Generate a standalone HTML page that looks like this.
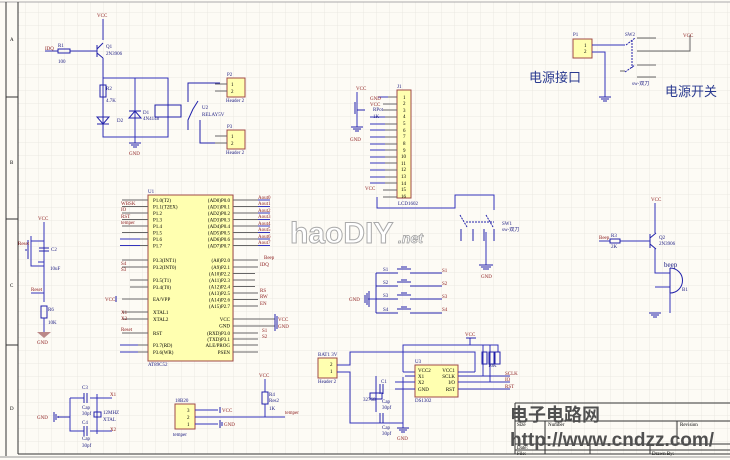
<!DOCTYPE html>
<html><head><meta charset="utf-8"><style>
html,body{margin:0;padding:0;background:#fdfbf5;}
svg{display:block;font-family:"Liberation Serif",serif;}
.w{stroke:#3333bb;stroke-width:1;fill:none}
.p{stroke:#666;stroke-width:1;fill:none}
.c{stroke:#2222aa;stroke-width:1;fill:none}
.n{fill:#8b1a1a;font-size:5px}
.t{fill:#1a1a80;font-size:5px}
.k{fill:#000;font-size:5px}
.bx{fill:#ffffb0;stroke:#a04848;stroke-width:1}
.f{stroke:#333;stroke-width:1;fill:none}
</style></head><body>
<svg width="730" height="460" viewBox="0 0 730 460" xmlns="http://www.w3.org/2000/svg">
<defs><pattern id="g" width="13" height="13" patternUnits="userSpaceOnUse"><path d="M13 0V13H0" fill="none" stroke="#e6e3dc" stroke-width="0.7"/></pattern></defs>
<rect width="730" height="460" fill="#fdfbf5"/>
<rect x="18" y="2" width="712" height="452" fill="url(#g)"/>
<!-- frame -->
<line x1="0" y1="2" x2="730" y2="2" stroke="#aaa"/>
<line x1="6" y1="2" x2="6" y2="456" class="f"/>
<line x1="18" y1="2" x2="18" y2="454" class="f"/>
<line x1="6" y1="97" x2="18" y2="97" class="f"/>
<line x1="6" y1="219" x2="18" y2="219" class="f"/>
<line x1="6" y1="345" x2="18" y2="345" class="f"/>
<line x1="18" y1="454" x2="730" y2="454" class="f"/>
<line x1="0" y1="457" x2="730" y2="457" stroke="#999"/>
<g class="k" font-size="6"><text x="10" y="41">A</text><text x="10" y="164">B</text><text x="10" y="287">C</text><text x="10" y="410">D</text></g>

<!-- Relay section -->
<text x="97" y="17" class="n">VCC</text>
<path class="w" d="M103 19V40"/>
<path class="c" d="M97 45V57M97 49L103 43M97 53L103 58"/>
<path class="w" d="M103 58V78H168V137H103V78M135 78V137"/>
<text x="106" y="48" class="t">Q1</text><text x="106" y="55" class="t">2N3906</text>
<text x="45" y="50" class="n">IDQ</text><path class="w" d="M45 51H58M70 51H97"/>
<rect x="58" y="49" width="12" height="4" class="c" fill="#fff"/>
<text x="58" y="47" class="t">R1</text><text x="58" y="63" class="t">100</text>
<rect x="100" y="85" width="6" height="12" class="c" fill="#fff"/>
<text x="106" y="90" class="t">R2</text><text x="106" y="102" class="t">4.7K</text>
<path class="c" d="M97 117H109L103 124ZM97 124H109" fill="#2222aa"/>
<text x="117" y="122" class="t">D2</text>
<path class="c" d="M129 118H141L135 111Z M129 111H141" fill="#2222aa"/>
<text x="143" y="114" class="t">D1</text><text x="143" y="120" class="t">4N4148</text>
<path class="w" d="M135 137V143"/><path class="c" d="M129 143H141M131 145H139M133 147H137"/>
<text x="129" y="155" class="n">GND</text>
<rect x="155" y="105" width="26" height="12" class="c" fill="#fff"/>
<path class="c" d="M188 102V83H220M193 109L188 120V130M200 120V143H220M198 101L193 109"/>
<text x="202" y="109" class="t">U2</text><text x="202" y="116" class="t">RELAY5V</text>
<rect x="227" y="78" width="18" height="19" class="bx"/>
<text x="227" y="76" class="t">P2</text><text x="231" y="86" class="k">1</text><text x="231" y="93" class="k">2</text><text x="226" y="102" class="t">Header 2</text>
<path class="p" d="M215 84H227M215 91H227"/>
<rect x="227" y="130" width="18" height="19" class="bx"/>
<text x="227" y="128" class="t">P3</text><text x="231" y="138" class="k">1</text><text x="231" y="145" class="k">2</text><text x="226" y="154" class="t">Header 2</text>
<path class="p" d="M215 136H227M215 143H227"/>

<!-- U1 -->
<rect x="148" y="195" width="85" height="166" class="bx"/>
<text x="148" y="193" class="t">U1</text><text x="148" y="366" class="t">AT89C52</text>
<g class="k" font-size="5">
<text x="153" y="202">P1.0(T2)</text><text x="153" y="208.5">P1.1(T2EX)</text><text x="153" y="215">P1.2</text><text x="153" y="221.5">P1.3</text><text x="153" y="228">P1.4</text><text x="153" y="234.5">P1.5</text><text x="153" y="241">P1.6</text><text x="153" y="247.5">P1.7</text>
<text x="153" y="262">P3.3(INT1)</text><text x="153" y="269">P3.2(INT0)</text><text x="153" y="282">P3.5(T1)</text><text x="153" y="289">P3.4(T0)</text><text x="153" y="301">EA/VPP</text><text x="153" y="314">XTAL1</text><text x="153" y="321">XTAL2</text><text x="153" y="335">RST</text><text x="153" y="347">P3.7(RD)</text><text x="153" y="354">P3.6(WR)</text>
<g text-anchor="end">
<text x="230" y="202">(AD0)P0.0</text><text x="230" y="208.5">(AD1)P0.1</text><text x="230" y="215">(AD2)P0.2</text><text x="230" y="221.5">(AD3)P0.3</text><text x="230" y="228">(AD4)P0.4</text><text x="230" y="234.5">(AD5)P0.5</text><text x="230" y="241">(AD6)P0.6</text><text x="230" y="247.5">(AD7)P0.7</text>
<text x="230" y="262">(A8)P2.0</text><text x="230" y="269">(A9)P2.1</text><text x="230" y="275.5">(A10)P2.2</text><text x="230" y="282">(A11)P2.3</text><text x="230" y="288.5">(A12)P2.4</text><text x="230" y="295">(A13)P2.5</text><text x="230" y="301.5">(A14)P2.6</text><text x="230" y="308">(A15)P2.7</text>
<text x="230" y="321">VCC</text><text x="230" y="327.5">GND</text><text x="230" y="335">(RXD)P3.0</text><text x="230" y="341">(TXD)P3.1</text><text x="230" y="347">ALE/PROG</text><text x="230" y="354">PSEN</text></g></g>
<path class="p" d="M122 200H148M122 206.5H148M122 213H148M122 219.5H148M122 226H148M122 232.5H148M122 239H148M122 245.5H148M122 260H148M122 267H148M130 280H148M130 287H148M122 299H148M122 312H148M122 319H148M122 333H148M122 345H148M122 352H148"/>
<path class="p" d="M233 200H258M233 206.5H258M233 213H258M233 219.5H258M233 226H258M233 232.5H258M233 239H258M233 245.5H258M233 260H258M233 267H258M233 273.5H255M233 280H255M233 286.5H255M233 293H258M233 299.5H258M233 306H258M233 319H275M233 326H275M233 333H258M233 339H258M233 345H258M233 352H258"/>
<path class="w" d="M120 239H140M120 245.5H140M120 345H138M120 352H138M258 200H270M258 206.5H270M258 213H270M258 219.5H270M258 226H270M258 232.5H270M258 239H270M258 245.5H270"/>
<g class="n" font-size="4"><text x="258" y="199">Aout0</text><text x="258" y="205">Aout1</text><text x="258" y="212">Aout2</text><text x="258" y="218">Aout3</text><text x="258" y="225">Aout4</text><text x="258" y="231">Aout5</text><text x="258" y="238">Aout6</text><text x="258" y="244">Aout7</text>
<text x="121" y="205">WBSK</text><text x="121" y="211">IO</text><text x="121" y="218">RST</text><text x="121" y="224">temper</text><text x="121" y="265">S4</text><text x="121" y="271">S3</text><text x="121" y="314">X1</text><text x="121" y="320">X2</text><text x="121" y="331">Reset</text>
<text x="264" y="259">Beep</text><text x="260" y="266">IDQ</text><text x="260" y="292">RS</text><text x="260" y="298">RW</text><text x="260" y="305">EN</text><text x="262" y="332">S1</text><text x="262" y="338">S2</text></g>
<text x="105" y="301" class="n">VCC</text><path class="c" d="M116 296V302"/>
<path class="c" d="M275 314V331M277 316V329"/><text x="278" y="321" class="n">VCC</text><text x="278" y="328" class="n">GND</text>

<!-- Reset -->
<text x="38" y="220" class="n">VCC</text>
<path class="w" d="M44 222V266H31V236M44 241H31M44 266V276M44 262H38M44 276V302"/>
<path class="c" d="M28 240V259M26 249V251M39 248H49M39 251H49"/>
<text x="51" y="251" class="t">C2</text><text x="50" y="270" class="t">10uF</text>
<text x="18" y="245" class="n">Reset</text>
<text x="31" y="291" class="n">Reset</text><path class="w" d="M31 293H44"/>
<rect x="41" y="306" width="6" height="12" class="c" fill="#fff"/>
<text x="48" y="311" class="t">R6</text><text x="48" y="324" class="t">10K</text>
<path d="M37 332H51L44 338Z" fill="#b88"/><text x="37" y="344" class="n">GND</text>
<path class="w" d="M44 318V332"/>

<!-- Crystal -->
<text x="37" y="419" class="n">GND</text>
<path class="c" d="M54 412V422M56 414V420M58 416V418M58 417H70"/>
<path class="w" d="M70 398V431H84M70 398H84M90 398H97M90 431H97M97 394V434M97 398H112M97 431H112"/>
<path class="c" d="M84 393V403M87 393V403M84 426V436M87 426V436"/>
<rect x="94" y="412" width="7" height="5" class="c"/>
<text x="82" y="389" class="t">C3</text><text x="82" y="409" class="t">Cap</text><text x="82" y="415" class="t">30pf</text>
<text x="82" y="424" class="t">C4</text><text x="82" y="440" class="t">Cap</text><text x="82" y="447" class="t">30pf</text>
<text x="103" y="414" class="t">12MHZ</text><text x="103" y="421" class="t">XTAL</text>
<text x="110" y="396" class="n">X1</text><text x="110" y="431" class="n">X2</text>

<!-- 18B20 -->
<rect x="175" y="404" width="20" height="25" class="bx"/>
<text x="175" y="402" class="t">18B20</text><text x="173" y="436" class="t">temper</text>
<g class="k"><text x="187" y="412">3</text><text x="187" y="419">2</text><text x="187" y="426">1</text></g>
<path class="w" d="M195 410H218M195 417H285M195 424H218"/>
<path class="c" d="M220 407V413M220 420V428M222 422V426"/>
<text x="222" y="412" class="n">VCC</text><text x="224" y="426" class="n">GND</text>
<text x="259" y="377" class="n">VCC</text><path class="w" d="M265 379V392M265 404V417"/>
<rect x="262" y="392" width="6" height="12" class="c" fill="#fff"/>
<text x="269" y="396" class="t">R4</text><text x="269" y="402" class="t">Res2</text><text x="269" y="410" class="t">1K</text>
<text x="285" y="414" class="n" font-size="4">temper</text>

<!-- LCD -->
<rect x="397" y="90" width="14" height="108" class="bx"/>
<text x="397" y="88" class="t">J1</text><text x="398" y="205" class="t">LCD1602</text>
<g class="k" font-size="4.5">
<text x="403" y="99">1</text><text x="403" y="105">2</text><text x="403" y="112">3</text><text x="403" y="118">4</text><text x="403" y="125">5</text><text x="403" y="132">6</text><text x="403" y="138">7</text><text x="403" y="145">8</text><text x="403" y="152">9</text><text x="401" y="158">10</text><text x="401" y="165">11</text><text x="401" y="171">12</text><text x="401" y="178">13</text><text x="401" y="185">14</text><text x="401" y="191">15</text><text x="401" y="198">16</text></g>
<path class="p" d="M383 97H397M383 104H397M383 110H397M383 117H397M383 124H397M383 130H397M383 137H397M383 144H397M383 150H397M383 157H397M383 163H397M383 170H397M383 177H397M383 183H397M383 190H397M383 197H397"/>
<path class="w" d="M378 97H388M370 117H385M370 124H385M370 130H385M370 137H385M370 144H385M370 150H385M370 157H385M370 163H385M370 170H385M370 177H385M370 183H385"/>
<path class="w" d="M377 197V208H455V195H494V210"/>
<text x="356" y="90" class="n">VCC</text><path class="w" d="M357 92V127"/>
<path class="c" d="M355 102V114M357 110L365 110"/>
<text x="370" y="100" class="n">GND</text><text x="370" y="106" class="n">VCC</text><text x="373" y="111" class="t">RPot</text><text x="373" y="118" class="t">1K</text>
<path class="c" d="M351 127H363M353 129H361M355 131H359"/><text x="350" y="141" class="n">GND</text>
<text x="365" y="190" class="n">VCC</text>
<path class="c" d="M460 215L467 227M486 215L493 227M466 222H494" stroke-dasharray="2 1"/>
<path class="c" d="M461 229V241M473 229V241M484 229V241M494 229V241"/>
<text x="502" y="225" class="t">SW1</text><text x="502" y="231" class="t" font-size="4">sw-双刀</text>
<path class="w" d="M486 232V265"/><path class="c" d="M479 265H493M481 267H491M483 269H489"/><text x="481" y="278" class="n">GND</text>

<!-- Power -->
<rect x="573" y="39" width="19" height="19" class="bx"/>
<text x="573" y="36" class="t">P1</text><text x="584" y="47" class="k">1</text><text x="584" y="53" class="k">2</text>
<path class="w" d="M592 45H625M592 52H605V97"/>
<path class="c" d="M599 97H611M601 99H609M603 101H607"/>
<path class="c" d="M626 45L635 38M625 72L635 65M632 40V68" stroke-dasharray="2 1"/>
<path class="p" d="M637 38H656M637 51H690V35M637 65H656M637 77H656M620 71H625"/>
<text x="625" y="36" class="t">SW2</text><text x="632" y="85" class="t" font-size="4">sw-双刀</text>
<text x="683" y="37" class="n">VCC</text>
<text x="529" y="82" fill="#2a3a90" font-size="13" font-family="'Liberation Sans','Noto Sans CJK SC',sans-serif">电源接口</text>
<text x="665" y="96" fill="#2a3a90" font-size="13" font-family="'Liberation Sans','Noto Sans CJK SC',sans-serif">电源开关</text>

<!-- Buzzer -->
<text x="651" y="201" class="n">VCC</text>
<path class="w" d="M655 203V233M655 248V273H670M655 287H670V313"/>
<path class="c" d="M650 234V248M650 238L656 233M650 244L656 249"/>
<text x="659" y="239" class="t">Q2</text><text x="659" y="245" class="t">2N3906</text>
<text x="599" y="239" class="n">Beep</text><path class="w" d="M599 241H610M620 241H650"/>
<rect x="610" y="239" width="10" height="4" class="c" fill="#fff"/>
<text x="611" y="237" class="t">R3</text><text x="611" y="248" class="t">2K</text>
<path class="c" d="M670 268V293M670 268A12 12 0 0 1 670 293"/>
<text x="664" y="267" fill="#1a1a80" font-size="7">beep</text><text x="682" y="291" class="t">B1</text>
<path class="c" d="M649 313H661M651 315H659M653 317H657"/>

<!-- Buttons -->
<path class="w" d="M376 273V313M376 299H368"/>
<g class="c"><path d="M376 273H398M410 273H442M397 269H411M401 267H407"/><path d="M376 286H398M410 286H442M397 282H411M401 280H407"/><path d="M376 299H398M410 299H442M397 295H411M401 293H407"/><path d="M376 313H398M410 313H442M397 309H411M401 307H407"/></g>
<path class="c" d="M365 295V303M367 293V305M369 291V307"/>
<text x="349" y="301" class="n">GND</text>
<g class="t"><text x="383" y="271">S1</text><text x="383" y="284">S2</text><text x="383" y="297">S3</text><text x="383" y="311">S4</text></g>
<g class="n" font-size="4"><text x="442" y="272">S1</text><text x="442" y="285">S2</text><text x="442" y="298">S3</text><text x="442" y="311">S4</text></g>

<!-- DS1302 -->
<rect x="318" y="358" width="19" height="20" class="bx"/>
<text x="318" y="356" class="t">BAT1 3V</text><text x="318" y="383" class="t">Header 2</text>
<g class="k"><text x="330" y="366">2</text><text x="330" y="373">1</text></g>
<path class="w" d="M337 365H350V352H475V372M337 372H350V423H403V377M403 372H415M403 423V428"/>
<rect x="415" y="365" width="43" height="32" class="bx"/>
<text x="415" y="363" class="t">U3</text><text x="415" y="402" class="t">DS1302</text>
<g class="k" font-size="4.5"><text x="418" y="372">VCC2</text><text x="418" y="378">X1</text><text x="418" y="384">X2</text><text x="418" y="391">GND</text><text x="455" y="372" text-anchor="end">VCC1</text><text x="455" y="378" text-anchor="end">SCLK</text><text x="455" y="384" text-anchor="end">I/O</text><text x="455" y="391" text-anchor="end">RST</text></g>
<path class="w" d="M403 372V345H498V352M470 338V345M483 345V376M490 345V382M458 372H475M458 376H510M458 382H510M458 389H510M405 376H415M395 382H415M395 389H415M376 376V412"/>
<path class="c" d="M370 393H382V399H370ZM380 384V394M383 384V394M380 413V423M383 413V423"/>
<rect x="482" y="352" width="5" height="12" class="c" fill="#fff"/><rect x="489" y="352" width="5" height="12" class="c" fill="#fff"/><rect x="495" y="352" width="5" height="12" class="c" fill="#fff"/>
<text x="465" y="336" class="n">VCC</text><path class="c" d="M466 338H476"/>
<text x="381" y="383" class="t">C1</text><text x="363" y="401" class="t">32768</text><text x="382" y="403" class="t">Cap</text><text x="382" y="409" class="t">30pf</text><text x="382" y="429" class="t">Cap</text><text x="382" y="435" class="t">30pf</text>
<text x="488" y="367" class="t">10K</text>
<g class="n" font-size="4"><text x="505" y="375">SCLK</text><text x="505" y="381">IO</text><text x="505" y="388">RST</text></g>
<path class="c" d="M397 428H409M399 430H407M401 432H405"/><text x="397" y="440" class="n">GND</text>

<!-- Title block -->
<path class="f" d="M515 403H730M515 403V454M515 421H730M515 444H730M515 450H730M545 421V454M677 421V444M590 444V454M650 444V454"/>
<g class="k" font-size="4.5"><text x="517" y="426">Size</text><text x="548" y="426">Number</text><text x="680" y="426">Revision</text><text x="517" y="449">Date:</text><text x="517" y="455">File:</text><text x="652" y="455">Drawn By:</text></g>
<text x="510" y="421" fill="#505050" font-size="18" font-weight="bold" font-family="'Liberation Sans','Noto Sans CJK SC',sans-serif">电子电路网</text>
<text x="510" y="446" fill="#505050" font-size="19" font-weight="bold" font-family="'Liberation Sans',sans-serif">http://www.cndzz.com/</text>

<!-- watermark -->
<text x="290" y="243" fill="#fff" stroke="#aaa" stroke-width="1" font-size="30" font-weight="bold" font-family="'Liberation Sans',sans-serif">haoDIY</text>
<text x="398" y="243" fill="#fff" stroke="#999" stroke-width="0.7" font-size="14" font-weight="bold" font-style="italic" font-family="'Liberation Sans',sans-serif">.net</text>
</svg>
</body></html>
